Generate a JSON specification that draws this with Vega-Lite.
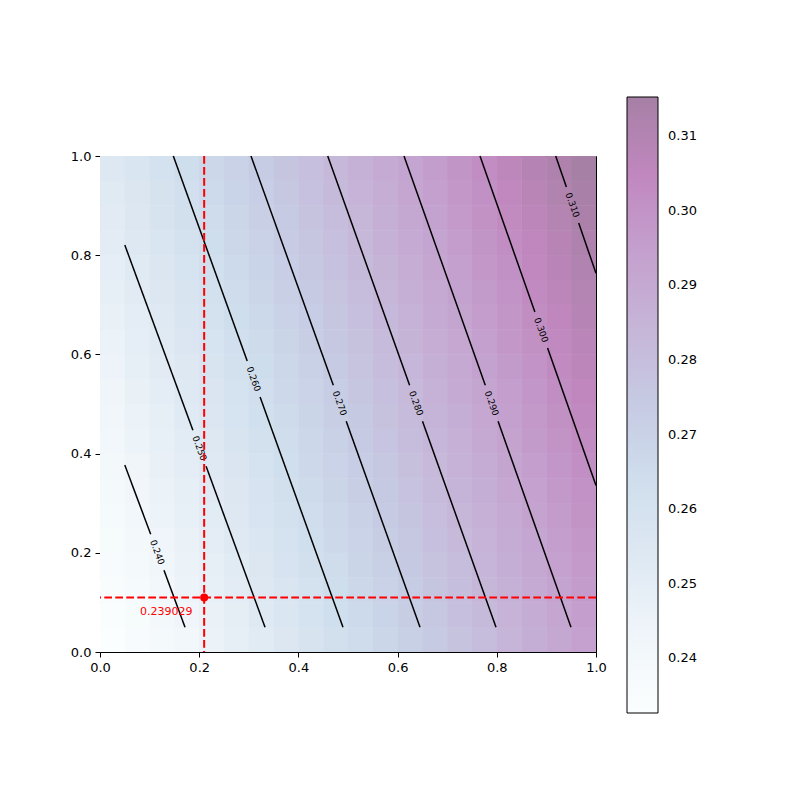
{
  "$schema": "https://vega.github.io/schema/vega-lite/v6.json",
  "width": 496,
  "height": 496,
  "autosize": {"type": "none"},
  "padding": {"left": 100, "top": 156, "right": 204, "bottom": 148},
  "background": "white",
  "datasets": {
    "grid": [
      {"i":1,"j":1,"v":0.2326},{"i":2,"j":1,"v":0.2359},{"i":3,"j":1,"v":0.2391},{"i":4,"j":1,"v":0.2423},{"i":5,"j":1,"v":0.2455},{"i":6,"j":1,"v":0.2488},{"i":7,"j":1,"v":0.2520},{"i":8,"j":1,"v":0.2552},{"i":9,"j":1,"v":0.2584},{"i":10,"j":1,"v":0.2617},{"i":11,"j":1,"v":0.2649},{"i":12,"j":1,"v":0.2681},{"i":13,"j":1,"v":0.2713},{"i":14,"j":1,"v":0.2746},{"i":15,"j":1,"v":0.2778},{"i":16,"j":1,"v":0.2810},{"i":17,"j":1,"v":0.2842},{"i":18,"j":1,"v":0.2875},{"i":19,"j":1,"v":0.2907},{"i":20,"j":1,"v":0.2939},
      {"i":1,"j":2,"v":0.2338},{"i":2,"j":2,"v":0.2370},{"i":3,"j":2,"v":0.2402},{"i":4,"j":2,"v":0.2434},{"i":5,"j":2,"v":0.2467},{"i":6,"j":2,"v":0.2499},{"i":7,"j":2,"v":0.2531},{"i":8,"j":2,"v":0.2563},{"i":9,"j":2,"v":0.2596},{"i":10,"j":2,"v":0.2628},{"i":11,"j":2,"v":0.2660},{"i":12,"j":2,"v":0.2692},{"i":13,"j":2,"v":0.2725},{"i":14,"j":2,"v":0.2757},{"i":15,"j":2,"v":0.2789},{"i":16,"j":2,"v":0.2821},{"i":17,"j":2,"v":0.2854},{"i":18,"j":2,"v":0.2886},{"i":19,"j":2,"v":0.2918},{"i":20,"j":2,"v":0.2950},
      {"i":1,"j":3,"v":0.2349},{"i":2,"j":3,"v":0.2381},{"i":3,"j":3,"v":0.2413},{"i":4,"j":3,"v":0.2446},{"i":5,"j":3,"v":0.2478},{"i":6,"j":3,"v":0.2510},{"i":7,"j":3,"v":0.2542},{"i":8,"j":3,"v":0.2575},{"i":9,"j":3,"v":0.2607},{"i":10,"j":3,"v":0.2639},{"i":11,"j":3,"v":0.2671},{"i":12,"j":3,"v":0.2704},{"i":13,"j":3,"v":0.2736},{"i":14,"j":3,"v":0.2768},{"i":15,"j":3,"v":0.2800},{"i":16,"j":3,"v":0.2833},{"i":17,"j":3,"v":0.2865},{"i":18,"j":3,"v":0.2897},{"i":19,"j":3,"v":0.2929},{"i":20,"j":3,"v":0.2962},
      {"i":1,"j":4,"v":0.2360},{"i":2,"j":4,"v":0.2392},{"i":3,"j":4,"v":0.2425},{"i":4,"j":4,"v":0.2457},{"i":5,"j":4,"v":0.2489},{"i":6,"j":4,"v":0.2521},{"i":7,"j":4,"v":0.2554},{"i":8,"j":4,"v":0.2586},{"i":9,"j":4,"v":0.2618},{"i":10,"j":4,"v":0.2650},{"i":11,"j":4,"v":0.2683},{"i":12,"j":4,"v":0.2715},{"i":13,"j":4,"v":0.2747},{"i":14,"j":4,"v":0.2779},{"i":15,"j":4,"v":0.2812},{"i":16,"j":4,"v":0.2844},{"i":17,"j":4,"v":0.2876},{"i":18,"j":4,"v":0.2908},{"i":19,"j":4,"v":0.2941},{"i":20,"j":4,"v":0.2973},
      {"i":1,"j":5,"v":0.2371},{"i":2,"j":5,"v":0.2404},{"i":3,"j":5,"v":0.2436},{"i":4,"j":5,"v":0.2468},{"i":5,"j":5,"v":0.2500},{"i":6,"j":5,"v":0.2533},{"i":7,"j":5,"v":0.2565},{"i":8,"j":5,"v":0.2597},{"i":9,"j":5,"v":0.2629},{"i":10,"j":5,"v":0.2662},{"i":11,"j":5,"v":0.2694},{"i":12,"j":5,"v":0.2726},{"i":13,"j":5,"v":0.2758},{"i":14,"j":5,"v":0.2791},{"i":15,"j":5,"v":0.2823},{"i":16,"j":5,"v":0.2855},{"i":17,"j":5,"v":0.2887},{"i":18,"j":5,"v":0.2920},{"i":19,"j":5,"v":0.2952},{"i":20,"j":5,"v":0.2984},
      {"i":1,"j":6,"v":0.2383},{"i":2,"j":6,"v":0.2415},{"i":3,"j":6,"v":0.2447},{"i":4,"j":6,"v":0.2479},{"i":5,"j":6,"v":0.2512},{"i":6,"j":6,"v":0.2544},{"i":7,"j":6,"v":0.2576},{"i":8,"j":6,"v":0.2608},{"i":9,"j":6,"v":0.2641},{"i":10,"j":6,"v":0.2673},{"i":11,"j":6,"v":0.2705},{"i":12,"j":6,"v":0.2737},{"i":13,"j":6,"v":0.2770},{"i":14,"j":6,"v":0.2802},{"i":15,"j":6,"v":0.2834},{"i":16,"j":6,"v":0.2866},{"i":17,"j":6,"v":0.2899},{"i":18,"j":6,"v":0.2931},{"i":19,"j":6,"v":0.2963},{"i":20,"j":6,"v":0.2995},
      {"i":1,"j":7,"v":0.2394},{"i":2,"j":7,"v":0.2426},{"i":3,"j":7,"v":0.2459},{"i":4,"j":7,"v":0.2491},{"i":5,"j":7,"v":0.2523},{"i":6,"j":7,"v":0.2555},{"i":7,"j":7,"v":0.2588},{"i":8,"j":7,"v":0.2620},{"i":9,"j":7,"v":0.2652},{"i":10,"j":7,"v":0.2684},{"i":11,"j":7,"v":0.2717},{"i":12,"j":7,"v":0.2749},{"i":13,"j":7,"v":0.2781},{"i":14,"j":7,"v":0.2813},{"i":15,"j":7,"v":0.2846},{"i":16,"j":7,"v":0.2878},{"i":17,"j":7,"v":0.2910},{"i":18,"j":7,"v":0.2942},{"i":19,"j":7,"v":0.2975},{"i":20,"j":7,"v":0.3007},
      {"i":1,"j":8,"v":0.2405},{"i":2,"j":8,"v":0.2438},{"i":3,"j":8,"v":0.2470},{"i":4,"j":8,"v":0.2502},{"i":5,"j":8,"v":0.2534},{"i":6,"j":8,"v":0.2567},{"i":7,"j":8,"v":0.2599},{"i":8,"j":8,"v":0.2631},{"i":9,"j":8,"v":0.2663},{"i":10,"j":8,"v":0.2696},{"i":11,"j":8,"v":0.2728},{"i":12,"j":8,"v":0.2760},{"i":13,"j":8,"v":0.2792},{"i":14,"j":8,"v":0.2825},{"i":15,"j":8,"v":0.2857},{"i":16,"j":8,"v":0.2889},{"i":17,"j":8,"v":0.2921},{"i":18,"j":8,"v":0.2954},{"i":19,"j":8,"v":0.2986},{"i":20,"j":8,"v":0.3018},
      {"i":1,"j":9,"v":0.2417},{"i":2,"j":9,"v":0.2449},{"i":3,"j":9,"v":0.2481},{"i":4,"j":9,"v":0.2513},{"i":5,"j":9,"v":0.2546},{"i":6,"j":9,"v":0.2578},{"i":7,"j":9,"v":0.2610},{"i":8,"j":9,"v":0.2642},{"i":9,"j":9,"v":0.2675},{"i":10,"j":9,"v":0.2707},{"i":11,"j":9,"v":0.2739},{"i":12,"j":9,"v":0.2771},{"i":13,"j":9,"v":0.2804},{"i":14,"j":9,"v":0.2836},{"i":15,"j":9,"v":0.2868},{"i":16,"j":9,"v":0.2900},{"i":17,"j":9,"v":0.2933},{"i":18,"j":9,"v":0.2965},{"i":19,"j":9,"v":0.2997},{"i":20,"j":9,"v":0.3029},
      {"i":1,"j":10,"v":0.2428},{"i":2,"j":10,"v":0.2460},{"i":3,"j":10,"v":0.2492},{"i":4,"j":10,"v":0.2525},{"i":5,"j":10,"v":0.2557},{"i":6,"j":10,"v":0.2589},{"i":7,"j":10,"v":0.2621},{"i":8,"j":10,"v":0.2654},{"i":9,"j":10,"v":0.2686},{"i":10,"j":10,"v":0.2718},{"i":11,"j":10,"v":0.2750},{"i":12,"j":10,"v":0.2783},{"i":13,"j":10,"v":0.2815},{"i":14,"j":10,"v":0.2847},{"i":15,"j":10,"v":0.2879},{"i":16,"j":10,"v":0.2912},{"i":17,"j":10,"v":0.2944},{"i":18,"j":10,"v":0.2976},{"i":19,"j":10,"v":0.3008},{"i":20,"j":10,"v":0.3041},
      {"i":1,"j":11,"v":0.2439},{"i":2,"j":11,"v":0.2471},{"i":3,"j":11,"v":0.2504},{"i":4,"j":11,"v":0.2536},{"i":5,"j":11,"v":0.2568},{"i":6,"j":11,"v":0.2600},{"i":7,"j":11,"v":0.2633},{"i":8,"j":11,"v":0.2665},{"i":9,"j":11,"v":0.2697},{"i":10,"j":11,"v":0.2729},{"i":11,"j":11,"v":0.2762},{"i":12,"j":11,"v":0.2794},{"i":13,"j":11,"v":0.2826},{"i":14,"j":11,"v":0.2858},{"i":15,"j":11,"v":0.2891},{"i":16,"j":11,"v":0.2923},{"i":17,"j":11,"v":0.2955},{"i":18,"j":11,"v":0.2987},{"i":19,"j":11,"v":0.3020},{"i":20,"j":11,"v":0.3052},
      {"i":1,"j":12,"v":0.2450},{"i":2,"j":12,"v":0.2483},{"i":3,"j":12,"v":0.2515},{"i":4,"j":12,"v":0.2547},{"i":5,"j":12,"v":0.2579},{"i":6,"j":12,"v":0.2612},{"i":7,"j":12,"v":0.2644},{"i":8,"j":12,"v":0.2676},{"i":9,"j":12,"v":0.2708},{"i":10,"j":12,"v":0.2741},{"i":11,"j":12,"v":0.2773},{"i":12,"j":12,"v":0.2805},{"i":13,"j":12,"v":0.2837},{"i":14,"j":12,"v":0.2870},{"i":15,"j":12,"v":0.2902},{"i":16,"j":12,"v":0.2934},{"i":17,"j":12,"v":0.2966},{"i":18,"j":12,"v":0.2999},{"i":19,"j":12,"v":0.3031},{"i":20,"j":12,"v":0.3063},
      {"i":1,"j":13,"v":0.2462},{"i":2,"j":13,"v":0.2494},{"i":3,"j":13,"v":0.2526},{"i":4,"j":13,"v":0.2558},{"i":5,"j":13,"v":0.2591},{"i":6,"j":13,"v":0.2623},{"i":7,"j":13,"v":0.2655},{"i":8,"j":13,"v":0.2687},{"i":9,"j":13,"v":0.2720},{"i":10,"j":13,"v":0.2752},{"i":11,"j":13,"v":0.2784},{"i":12,"j":13,"v":0.2816},{"i":13,"j":13,"v":0.2849},{"i":14,"j":13,"v":0.2881},{"i":15,"j":13,"v":0.2913},{"i":16,"j":13,"v":0.2945},{"i":17,"j":13,"v":0.2978},{"i":18,"j":13,"v":0.3010},{"i":19,"j":13,"v":0.3042},{"i":20,"j":13,"v":0.3074},
      {"i":1,"j":14,"v":0.2473},{"i":2,"j":14,"v":0.2505},{"i":3,"j":14,"v":0.2537},{"i":4,"j":14,"v":0.2570},{"i":5,"j":14,"v":0.2602},{"i":6,"j":14,"v":0.2634},{"i":7,"j":14,"v":0.2666},{"i":8,"j":14,"v":0.2699},{"i":9,"j":14,"v":0.2731},{"i":10,"j":14,"v":0.2763},{"i":11,"j":14,"v":0.2795},{"i":12,"j":14,"v":0.2828},{"i":13,"j":14,"v":0.2860},{"i":14,"j":14,"v":0.2892},{"i":15,"j":14,"v":0.2924},{"i":16,"j":14,"v":0.2957},{"i":17,"j":14,"v":0.2989},{"i":18,"j":14,"v":0.3021},{"i":19,"j":14,"v":0.3053},{"i":20,"j":14,"v":0.3086},
      {"i":1,"j":15,"v":0.2484},{"i":2,"j":15,"v":0.2516},{"i":3,"j":15,"v":0.2549},{"i":4,"j":15,"v":0.2581},{"i":5,"j":15,"v":0.2613},{"i":6,"j":15,"v":0.2645},{"i":7,"j":15,"v":0.2678},{"i":8,"j":15,"v":0.2710},{"i":9,"j":15,"v":0.2742},{"i":10,"j":15,"v":0.2774},{"i":11,"j":15,"v":0.2807},{"i":12,"j":15,"v":0.2839},{"i":13,"j":15,"v":0.2871},{"i":14,"j":15,"v":0.2903},{"i":15,"j":15,"v":0.2936},{"i":16,"j":15,"v":0.2968},{"i":17,"j":15,"v":0.3000},{"i":18,"j":15,"v":0.3032},{"i":19,"j":15,"v":0.3065},{"i":20,"j":15,"v":0.3097},
      {"i":1,"j":16,"v":0.2495},{"i":2,"j":16,"v":0.2528},{"i":3,"j":16,"v":0.2560},{"i":4,"j":16,"v":0.2592},{"i":5,"j":16,"v":0.2624},{"i":6,"j":16,"v":0.2657},{"i":7,"j":16,"v":0.2689},{"i":8,"j":16,"v":0.2721},{"i":9,"j":16,"v":0.2753},{"i":10,"j":16,"v":0.2786},{"i":11,"j":16,"v":0.2818},{"i":12,"j":16,"v":0.2850},{"i":13,"j":16,"v":0.2882},{"i":14,"j":16,"v":0.2915},{"i":15,"j":16,"v":0.2947},{"i":16,"j":16,"v":0.2979},{"i":17,"j":16,"v":0.3011},{"i":18,"j":16,"v":0.3044},{"i":19,"j":16,"v":0.3076},{"i":20,"j":16,"v":0.3108},
      {"i":1,"j":17,"v":0.2507},{"i":2,"j":17,"v":0.2539},{"i":3,"j":17,"v":0.2571},{"i":4,"j":17,"v":0.2603},{"i":5,"j":17,"v":0.2636},{"i":6,"j":17,"v":0.2668},{"i":7,"j":17,"v":0.2700},{"i":8,"j":17,"v":0.2732},{"i":9,"j":17,"v":0.2765},{"i":10,"j":17,"v":0.2797},{"i":11,"j":17,"v":0.2829},{"i":12,"j":17,"v":0.2861},{"i":13,"j":17,"v":0.2894},{"i":14,"j":17,"v":0.2926},{"i":15,"j":17,"v":0.2958},{"i":16,"j":17,"v":0.2990},{"i":17,"j":17,"v":0.3023},{"i":18,"j":17,"v":0.3055},{"i":19,"j":17,"v":0.3087},{"i":20,"j":17,"v":0.3119},
      {"i":1,"j":18,"v":0.2518},{"i":2,"j":18,"v":0.2550},{"i":3,"j":18,"v":0.2582},{"i":4,"j":18,"v":0.2615},{"i":5,"j":18,"v":0.2647},{"i":6,"j":18,"v":0.2679},{"i":7,"j":18,"v":0.2711},{"i":8,"j":18,"v":0.2744},{"i":9,"j":18,"v":0.2776},{"i":10,"j":18,"v":0.2808},{"i":11,"j":18,"v":0.2840},{"i":12,"j":18,"v":0.2873},{"i":13,"j":18,"v":0.2905},{"i":14,"j":18,"v":0.2937},{"i":15,"j":18,"v":0.2969},{"i":16,"j":18,"v":0.3002},{"i":17,"j":18,"v":0.3034},{"i":18,"j":18,"v":0.3066},{"i":19,"j":18,"v":0.3098},{"i":20,"j":18,"v":0.3131},
      {"i":1,"j":19,"v":0.2529},{"i":2,"j":19,"v":0.2561},{"i":3,"j":19,"v":0.2594},{"i":4,"j":19,"v":0.2626},{"i":5,"j":19,"v":0.2658},{"i":6,"j":19,"v":0.2690},{"i":7,"j":19,"v":0.2723},{"i":8,"j":19,"v":0.2755},{"i":9,"j":19,"v":0.2787},{"i":10,"j":19,"v":0.2819},{"i":11,"j":19,"v":0.2852},{"i":12,"j":19,"v":0.2884},{"i":13,"j":19,"v":0.2916},{"i":14,"j":19,"v":0.2948},{"i":15,"j":19,"v":0.2981},{"i":16,"j":19,"v":0.3013},{"i":17,"j":19,"v":0.3045},{"i":18,"j":19,"v":0.3077},{"i":19,"j":19,"v":0.3110},{"i":20,"j":19,"v":0.3142},
      {"i":1,"j":20,"v":0.2540},{"i":2,"j":20,"v":0.2573},{"i":3,"j":20,"v":0.2605},{"i":4,"j":20,"v":0.2637},{"i":5,"j":20,"v":0.2669},{"i":6,"j":20,"v":0.2702},{"i":7,"j":20,"v":0.2734},{"i":8,"j":20,"v":0.2766},{"i":9,"j":20,"v":0.2798},{"i":10,"j":20,"v":0.2831},{"i":11,"j":20,"v":0.2863},{"i":12,"j":20,"v":0.2895},{"i":13,"j":20,"v":0.2927},{"i":14,"j":20,"v":0.2960},{"i":15,"j":20,"v":0.2992},{"i":16,"j":20,"v":0.3024},{"i":17,"j":20,"v":0.3056},{"i":18,"j":20,"v":0.3089},{"i":19,"j":20,"v":0.3121},{"i":20,"j":20,"v":0.3153}
    ],
    "contours": [
      {"seg":"0.240a","x":0.05,"y":0.377},{"seg":"0.240a","x":0.1022,"y":0.2373},
      {"seg":"0.240b","x":0.1290,"y":0.1647},{"seg":"0.240b","x":0.1714,"y":0.05},
      {"seg":"0.250a","x":0.05,"y":0.8206},{"seg":"0.250a","x":0.1873,"y":0.4470},
      {"seg":"0.250b","x":0.2139,"y":0.3744},{"seg":"0.250b","x":0.3327,"y":0.05},
      {"seg":"0.260a","x":0.1478,"y":1.0},{"seg":"0.260a","x":0.2968,"y":0.5867},
      {"seg":"0.260b","x":0.3228,"y":0.5141},{"seg":"0.260b","x":0.4899,"y":0.05},
      {"seg":"0.270a","x":0.3044,"y":1.0},{"seg":"0.270a","x":0.4704,"y":0.5377},
      {"seg":"0.270b","x":0.4964,"y":0.4651},{"seg":"0.270b","x":0.6452,"y":0.05},
      {"seg":"0.280a","x":0.4591,"y":1.0},{"seg":"0.280a","x":0.6242,"y":0.5377},
      {"seg":"0.280b","x":0.6502,"y":0.4651},{"seg":"0.280b","x":0.7984,"y":0.05},
      {"seg":"0.290a","x":0.6129,"y":1.0},{"seg":"0.290a","x":0.7768,"y":0.5377},
      {"seg":"0.290b","x":0.8026,"y":0.4651},{"seg":"0.290b","x":0.9496,"y":0.05},
      {"seg":"0.300a","x":0.7661,"y":1.0},{"seg":"0.300a","x":0.8768,"y":0.6855},
      {"seg":"0.300b","x":0.9024,"y":0.6129},{"seg":"0.300b","x":1.0,"y":0.3357},
      {"seg":"0.310a","x":0.9187,"y":1.0},{"seg":"0.310a","x":0.9403,"y":0.9375},
      {"seg":"0.310b","x":0.9651,"y":0.8649},{"seg":"0.310b","x":1.0,"y":0.7635}
    ],
    "labels": [
      {"t":"0.240","x":0.1155,"y":0.2010},
      {"t":"0.250","x":0.2006,"y":0.4107},
      {"t":"0.260","x":0.3097,"y":0.5504},
      {"t":"0.270","x":0.4833,"y":0.5014},
      {"t":"0.280","x":0.6373,"y":0.5014},
      {"t":"0.290","x":0.7897,"y":0.5014},
      {"t":"0.300","x":0.8895,"y":0.6492},
      {"t":"0.310","x":0.9526,"y":0.9012}
    ],
    "marker": [
      {"x":0.21,"y":0.11,"value":"0.239029"}
    ]
  },
  "layer": [
    {
      "data": {"name": "grid"},
      "layer": [
        {"mark": {"type": "rect"}},
        {"mark": {"type": "rect"}}
      ],
      "encoding": {
        "x": {"field": "i", "type": "ordinal", "axis": null, "scale": {"paddingInner": 0, "paddingOuter": 0}},
        "y": {"field": "j", "type": "ordinal", "axis": null, "sort": "descending", "scale": {"paddingInner": 0, "paddingOuter": 0}},
        "fill": {
          "field": "v",
          "type": "quantitative",
          "scale": {
            "domain": [0.23267, 0.31527],
            "range": ["#fbfefe", "#f0f6fa", "#dfe9f3", "#cfdeed", "#c6cbe3", "#c6b5d8", "#c4a0ce", "#c087be", "#a680a5"],
            "interpolate": "rgb",
            "clamp": true
          },
          "legend": {
            "orient": "none",
            "legendX": 527,
            "legendY": -59,
            "direction": "vertical",
            "gradientLength": 616,
            "gradientThickness": 31,
            "gradientStrokeColor": "black",
            "gradientStrokeWidth": 1,
            "values": [0.24, 0.25, 0.26, 0.27, 0.28, 0.29, 0.30, 0.31],
            "format": ".2f",
            "labelFont": "DejaVu Sans",
            "labelFontSize": 13,
            "labelColor": "black",
            "labelOffset": 10,
            "labelOverlap": false,
            "title": null
          }
        }
      }
    },
    {
      "layer": [
        {
          "data": {"name": "contours"},
          "mark": {"type": "line", "color": "black", "strokeWidth": 1.5},
          "encoding": {
            "x": {
              "field": "x", "type": "quantitative", "title": null,
              "scale": {"domain": [0, 1], "nice": false, "zero": false},
              "axis": {"orient": "bottom", "values": [0, 0.2, 0.4, 0.6, 0.8, 1.0], "format": ".1f"}
            },
            "y": {
              "field": "y", "type": "quantitative", "title": null,
              "scale": {"domain": [0, 1], "nice": false, "zero": false},
              "axis": {"orient": "left", "values": [0, 0.2, 0.4, 0.6, 0.8, 1.0], "format": ".1f"}
            },
            "detail": {"field": "seg", "type": "nominal"}
          }
        },
        {
          "data": {"name": "labels"},
          "mark": {"type": "text", "angle": 70, "fontSize": 9, "font": "DejaVu Sans", "color": "black", "align": "center", "baseline": "middle"},
          "encoding": {
            "x": {"field": "x", "type": "quantitative", "title": null},
            "y": {"field": "y", "type": "quantitative", "title": null},
            "text": {"field": "t", "type": "nominal"}
          }
        },
        {
          "data": {"name": "marker"},
          "mark": {"type": "rule", "color": "red", "strokeWidth": 2, "strokeDash": [7.7, 3.3]},
          "encoding": {
            "x": {"field": "x", "type": "quantitative", "title": null}
          }
        },
        {
          "data": {"name": "marker"},
          "mark": {"type": "rule", "color": "red", "strokeWidth": 2, "strokeDash": [7.7, 3.3]},
          "encoding": {
            "y": {"field": "y", "type": "quantitative", "title": null}
          }
        },
        {
          "data": {"name": "marker"},
          "mark": {"type": "point", "shape": "circle", "filled": true, "color": "red", "opacity": 1, "size": 65},
          "encoding": {
            "x": {"field": "x", "type": "quantitative", "title": null},
            "y": {"field": "y", "type": "quantitative", "title": null}
          }
        },
        {
          "data": {"name": "marker"},
          "mark": {"type": "text", "color": "red", "fontSize": 11, "font": "DejaVu Sans", "align": "center", "baseline": "middle", "dx": -38, "dy": 15},
          "encoding": {
            "x": {"field": "x", "type": "quantitative", "title": null},
            "y": {"field": "y", "type": "quantitative", "title": null},
            "text": {"field": "value", "type": "nominal"}
          }
        }
      ]
    }
  ],
  "resolve": {"scale": {"x": "independent", "y": "independent"}},
  "config": {
    "view": {"stroke": "black", "strokeWidth": 1},
    "axis": {
      "domain": false,
      "grid": false,
      "labelFont": "DejaVu Sans",
      "labelFontSize": 13,
      "labelColor": "black",
      "tickColor": "black",
      "tickSize": 5,
      "tickWidth": 1,
      "labelPadding": 4,
      "labelFlush": false,
      "labelOverlap": false
    }
  }
}
